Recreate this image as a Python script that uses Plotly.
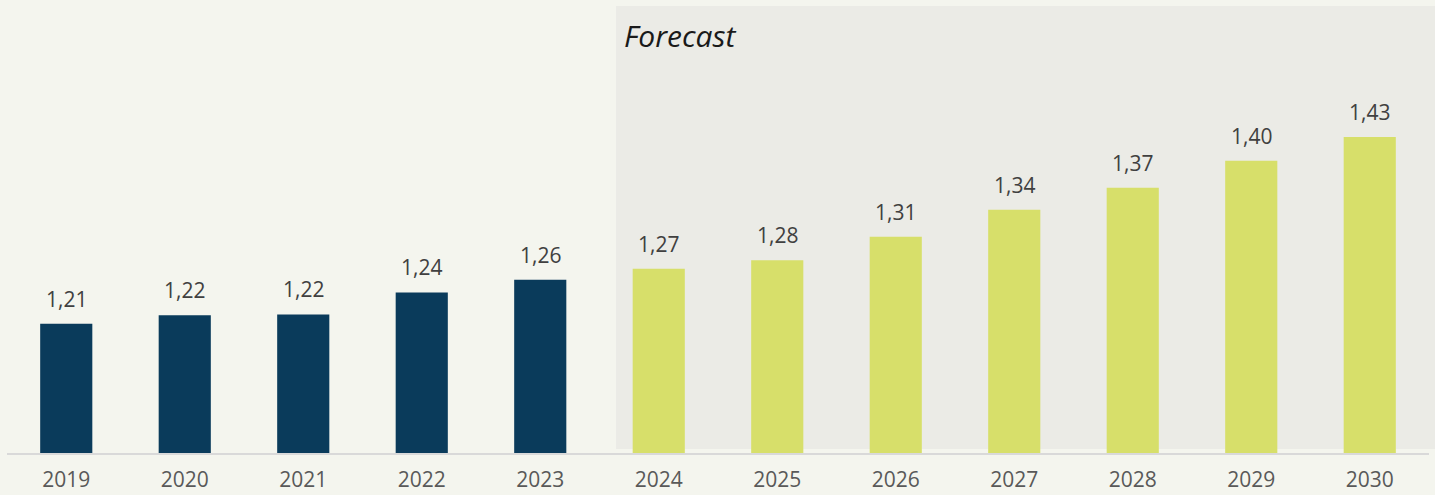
import plotly.graph_objects as go

years = ["2019", "2020", "2021", "2022", "2023", "2024", "2025", "2026", "2027", "2028", "2029", "2030"]
values = [1.209, 1.219, 1.220, 1.246, 1.261, 1.274, 1.284, 1.312, 1.344, 1.370, 1.402, 1.430]
labels = ["1,21", "1,22", "1,22", "1,24", "1,26", "1,27", "1,28", "1,31", "1,34", "1,37", "1,40", "1,43"]
is_forecast = [False] * 5 + [True] * 7

NAVY = "#0A3B5B"
LIME = "#D7DF6A"
BG = "#F4F5EE"
SHADE = "#EBEBE6"
FONT = "Open Sans"

colors = [LIME if f else NAVY for f in is_forecast]

fig = go.Figure()
fig.add_trace(go.Bar(
    x=years, y=values, marker=dict(color=colors, line=dict(width=0)),
    width=0.44, hoverinfo="skip", showlegend=False,
))

for i, (v, lab) in enumerate(zip(values, labels)):
    fig.add_annotation(
        x=i, y=v, text=lab, showarrow=False, yanchor="bottom", yshift=9,
        font=dict(family=FONT, size=21, color="#404040"),
    )

fig.add_shape(
    type="rect", xref="paper", yref="paper", x0=0.4283, x1=1.0045, y0=0.009, y1=1.0,
    fillcolor=SHADE, line=dict(width=0), layer="below",
)
fig.add_annotation(
    xref="paper", yref="paper", x=0.4325, y=0.985, xanchor="left", yanchor="top",
    text="<i>Forecast</i>", showarrow=False,
    font=dict(family=FONT, size=30, color="#1A1A1A"),
)

fig.update_layout(
    width=1435, height=495,
    margin=dict(l=7, r=6, t=6, b=42, autoexpand=False),
    paper_bgcolor=BG, plot_bgcolor="rgba(0,0,0,0)",
    bargap=0.56,
    xaxis=dict(
        type="category", range=[-0.5, 11.5], showgrid=False, zeroline=False,
        showline=True, linecolor="#D9D9D9", linewidth=2, automargin=False,
        ticks="", tickfont=dict(family=FONT, size=21, color="#595959"),
        ticklabelstandoff=7,
    ),
    yaxis=dict(
        range=[1.056, 1.585], showgrid=False, zeroline=False, automargin=False,
        showticklabels=False, showline=False, fixedrange=True,
    ),
)

fig.write_html(
    "out.html",
    config={"displayModeBar": False, "staticPlot": True},
    post_script="document.body.style.margin='0';document.body.style.overflow='hidden';document.body.style.background='#F4F5EE';",
)
